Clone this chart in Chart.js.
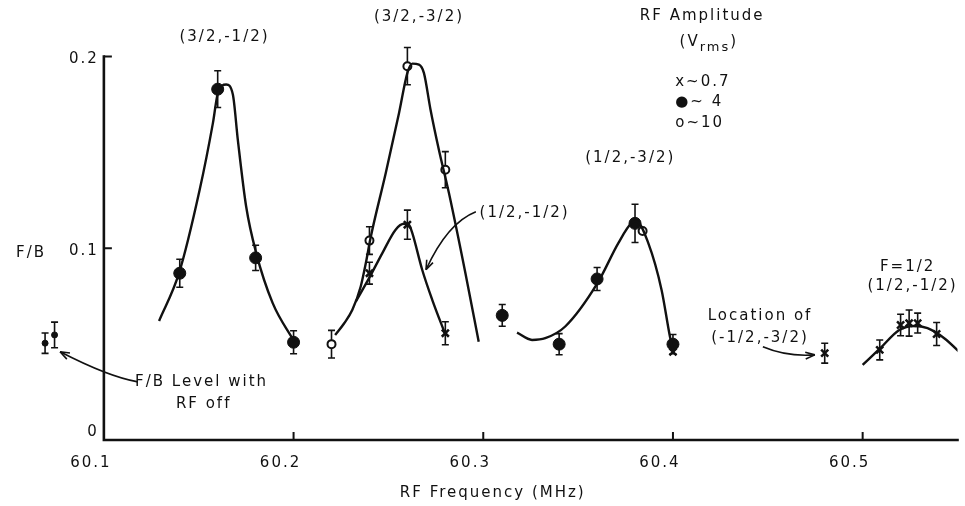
<!DOCTYPE html>
<html>
<head>
<meta charset="utf-8">
<script src="https://cdn.jsdelivr.net/npm/chart.js@4.4.1/dist/chart.umd.min.js"></script>
<style>
  html, body { margin: 0; padding: 0; background: #fff; }
</style>
</head>
<body>
<canvas id="rfChart" width="965" height="506"></canvas>
<script>
// measured points (x in MHz, y = F/B, err = half height of the error bar)
const rfOffX = [60.069, 60.074];
const rfOffY = [0.0505, 0.0548];
const rfOffErr = [0.0053, 0.0067];

// ~4 Vrms (filled circles)
const filledX = [60.14, 60.16, 60.18, 60.20, 60.31, 60.34, 60.36, 60.38, 60.40];
const filledY = [0.087, 0.183, 0.095, 0.051, 0.065, 0.050, 0.084, 0.113, 0.050];
const filledErr = [0.0073, 0.0096, 0.0066, 0.006, 0.0057, 0.0055, 0.006, 0.010, 0.005];

// ~10 Vrms (open circles)
const openX = [60.22, 60.24, 60.26, 60.28, 60.384];
const openY = [0.050, 0.104, 0.195, 0.141, 0.109];
const openErr = [0.0072, 0.0072, 0.0097, 0.0094, 0];

// ~0.7 Vrms (crosses)
const crossX = [60.24, 60.26, 60.28, 60.40, 60.48, 60.509, 60.52, 60.5245, 60.529, 60.539];
const crossY = [0.087, 0.1123, 0.0557, 0.046, 0.0453, 0.047, 0.060, 0.061, 0.061, 0.0553];
const crossErr = [0.0057, 0.0076, 0.006, 0, 0.0052, 0.0052, 0.0056, 0.0068, 0.0052, 0.006];

// hand drawn resonance curves
const curve3212X = [60.1291, 60.1396, 60.1505, 60.1575, 60.1601, 60.1645, 60.1680, 60.1706, 60.1750, 60.1803, 60.1890, 60.2004];
const curve3212Y = [0.0621, 0.0870, 0.1305, 0.1654, 0.1810, 0.1854, 0.1802, 0.1567, 0.1218, 0.0975, 0.0714, 0.0513];

const curve3232X = [60.2219, 60.2267, 60.2310, 60.2354, 60.2381, 60.2405, 60.2486, 60.2556, 60.2600, 60.2626, 60.2661, 60.2687, 60.2722, 60.2766, 60.2819, 60.2906, 60.2976];
const curve3232Y = [0.0548, 0.0609, 0.0679, 0.0801, 0.0923, 0.1050, 0.1393, 0.1706, 0.1915, 0.1963, 0.1958, 0.1915, 0.1723, 0.1514, 0.1288, 0.0870, 0.0513];

const curve1212X = [60.2328, 60.2398, 60.2468, 60.2538, 60.2582, 60.2608, 60.2626, 60.2678, 60.2731, 60.2801];
const curve1212Y = [0.0722, 0.0844, 0.0975, 0.1097, 0.1128, 0.1123, 0.1079, 0.0888, 0.0731, 0.0548];

const curve1232X = [60.3178, 60.3257, 60.3327, 60.3432, 60.3602, 60.3712, 60.3782, 60.3808, 60.3870, 60.3940, 60.3984, 60.4005];
const curve1232Y = [0.056, 0.0522, 0.0531, 0.0592, 0.0818, 0.1027, 0.1132, 0.1140, 0.1027, 0.0783, 0.054, 0.045];

const curveF12X = [60.50, 60.5093, 60.5193, 60.5272, 60.5342, 60.5430, 60.5526];
const curveF12Y = [0.0392, 0.0479, 0.0574, 0.0595, 0.0583, 0.0531, 0.0444];

const xTicks = [60.1, 60.2, 60.3, 60.4, 60.5];
const yTicks = [0, 0.1, 0.2];
const yTickLabels = ["0", "0.1", "0.2"];

// text labels placed in data units
const notes = [
  { text: "(3/2,-1/2)", x: 60.1636, y: 0.2104 },
  { text: "(3/2,-3/2)", x: 60.2661, y: 0.2204 },
  { text: "(1/2,-3/2)", x: 60.3775, y: 0.1473 },
  { text: "(1/2,-1/2)", x: 60.3218, y: 0.1185 },
  { text: "Location of", x: 60.4459, y: 0.0648 },
  { text: "(-1/2,-3/2)", x: 60.4459, y: 0.0533 },
  { text: "F=1/2", x: 60.5237, y: 0.0903 },
  { text: "(1/2,-1/2)", x: 60.5263, y: 0.0804 },
  { text: "F/B Level with", x: 60.1515, y: 0.0303 },
  { text: "RF off", x: 60.1526, y: 0.0188 },
  { text: "F/B", x: 60.0616, y: 0.0977 },
  { text: "RF Amplitude", x: 60.4154, y: 0.2209 },
  { text: "x~0.7", x: 60.4012, y: 0.1869, align: "left" },
  { text: "\u25CF~ 4", x: 60.4012, y: 0.1765, align: "left" },
  { text: "o~10", x: 60.4012, y: 0.1655, align: "left" }
];

// arrows: start, bend, head
const arrows = [
  [[60.1179, 0.0303], [60.1026, 0.0329], [60.0769, 0.0460]],
  [[60.2961, 0.1191], [60.2810, 0.1132], [60.2698, 0.0888]],
  [[60.4474, 0.0486], [60.4600, 0.0433], [60.4748, 0.0444]]
];

const ink = "#111";
const FONT = "DejaVu Sans";
const SPACING = "2px";

const pts = (xs, ys) => xs.map((v, i) => ({ x: v, y: ys[i] }));

function curve(xs, ys) {
  return {
    data: pts(xs, ys),
    showLine: true,
    borderColor: ink,
    borderWidth: 2.4,
    pointRadius: 0,
    cubicInterpolationMode: "monotone",
    fill: false
  };
}

const extras = {
  id: "extras",
  beforeUpdate(chart) { chart.ctx.letterSpacing = SPACING; },
  beforeDraw(chart) { chart.ctx.letterSpacing = SPACING; },
  beforeDatasetsDraw(chart) {
    const { ctx, scales: { x, y } } = chart;
    ctx.save();
    ctx.strokeStyle = ink;
    ctx.lineWidth = 1.6;
    chart.data.datasets.forEach((ds) => {
      if (!ds.errorBars) return;
      ds.data.forEach((p, j) => {
        const e = ds.errorBars[j];
        if (!e) return;
        const px = x.getPixelForValue(p.x);
        const top = y.getPixelForValue(p.y + e);
        const bot = y.getPixelForValue(p.y - e);
        ctx.beginPath();
        ctx.moveTo(px, top); ctx.lineTo(px, bot);
        ctx.moveTo(px - 3.5, top); ctx.lineTo(px + 3.5, top);
        ctx.moveTo(px - 3.5, bot); ctx.lineTo(px + 3.5, bot);
        ctx.stroke();
      });
    });
    ctx.restore();
  },
  afterDraw(chart) {
    const { ctx, chartArea, scales: { x, y } } = chart;
    const x0 = x.getPixelForValue(xTicks[0]);
    const y0 = y.getPixelForValue(yTicks[0]);
    const yTop = y.getPixelForValue(yTicks[yTicks.length - 1]);
    ctx.save();
    ctx.strokeStyle = ink;
    ctx.lineWidth = 2.6;
    ctx.lineCap = "square";
    ctx.beginPath();
    ctx.moveTo(x0, yTop);
    ctx.lineTo(x0, y0);
    ctx.lineTo(chartArea.right, y0);
    ctx.stroke();
    ctx.lineWidth = 2;
    ctx.lineCap = "butt";
    ctx.beginPath();
    yTicks.slice(1).forEach((v) => {
      const py = y.getPixelForValue(v);
      ctx.moveTo(x0, py); ctx.lineTo(x0 + 8, py);
    });
    xTicks.slice(1).forEach((v) => {
      const px = x.getPixelForValue(v);
      ctx.moveTo(px, y0); ctx.lineTo(px, y0 - 8);
    });
    ctx.stroke();

    // arrows
    ctx.lineWidth = 1.6;
    arrows.forEach(([a, b, c]) => {
      const p0 = [x.getPixelForValue(a[0]), y.getPixelForValue(a[1])];
      const p1 = [x.getPixelForValue(b[0]), y.getPixelForValue(b[1])];
      const p2 = [x.getPixelForValue(c[0]), y.getPixelForValue(c[1])];
      ctx.beginPath();
      ctx.moveTo(p0[0], p0[1]);
      ctx.quadraticCurveTo(p1[0], p1[1], p2[0], p2[1]);
      ctx.stroke();
      const ang = Math.atan2(p2[1] - p1[1], p2[0] - p1[0]);
      ctx.beginPath();
      ctx.moveTo(p2[0], p2[1]);
      ctx.lineTo(p2[0] - 10 * Math.cos(ang - 0.35), p2[1] - 10 * Math.sin(ang - 0.35));
      ctx.moveTo(p2[0], p2[1]);
      ctx.lineTo(p2[0] - 10 * Math.cos(ang + 0.35), p2[1] - 10 * Math.sin(ang + 0.35));
      ctx.stroke();
    });

    // text
    ctx.fillStyle = ink;
    ctx.letterSpacing = SPACING;
    ctx.font = "15px '" + FONT + "'";
    ctx.textBaseline = "middle";

    // y tick labels
    ctx.textAlign = "right";
    yTicks.forEach((v, i) => {
      const py = y.getPixelForValue(v);
      ctx.fillText(yTickLabels[i], x0 - 5, v === 0 ? py - 8 : py + 3);
    });

    notes.forEach((n) => {
      ctx.textAlign = n.align || "center";
      ctx.fillText(n.text, x.getPixelForValue(n.x), y.getPixelForValue(n.y));
    });

    // (Vrms) with subscript
    const vx = x.getPixelForValue(60.4035);
    const vy = y.getPixelForValue(0.2073);
    ctx.textAlign = "left";
    ctx.fillText("(V", vx, vy);
    let w = ctx.measureText("(V").width;
    ctx.font = "13px '" + FONT + "'";
    ctx.fillText("rms", vx + w, vy + 5);
    w += ctx.measureText("rms").width;
    ctx.font = "15px '" + FONT + "'";
    ctx.fillText(")", vx + w, vy);
    ctx.restore();
  }
};

Chart.defaults.font.family = FONT;
Chart.defaults.color = ink;

new Chart(document.getElementById("rfChart"), {
  type: "line",
  data: {
    datasets: [
      curve(curve3212X, curve3212Y),
      curve(curve3232X, curve3232Y),
      curve(curve1212X, curve1212Y),
      curve(curve1232X, curve1232Y),
      curve(curveF12X, curveF12Y),
      {
        label: "RF off",
        data: pts(rfOffX, rfOffY),
        errorBars: rfOffErr,
        showLine: false,
        pointStyle: "circle",
        pointRadius: 3,
        pointBackgroundColor: ink,
        pointBorderColor: ink,
        clip: false
      },
      {
        label: "~10",
        data: pts(openX, openY),
        errorBars: openErr,
        showLine: false,
        pointStyle: "circle",
        pointRadius: 4,
        pointBorderWidth: 2,
        pointBackgroundColor: "#fff",
        pointBorderColor: ink
      },
      {
        label: "~0.7",
        data: pts(crossX, crossY),
        errorBars: crossErr,
        showLine: false,
        pointStyle: "crossRot",
        pointRadius: 5,
        pointBorderWidth: 2.5,
        pointBorderColor: ink
      },
      {
        label: "~4",
        data: pts(filledX, filledY),
        errorBars: filledErr,
        showLine: false,
        pointStyle: "circle",
        pointRadius: 6,
        pointBackgroundColor: ink,
        pointBorderColor: ink
      }
    ]
  },
  options: {
    responsive: false,
    animation: false,
    events: [],
    layout: { padding: { left: 28, right: 5, top: 0, bottom: 0 } },
    plugins: { legend: { display: false }, tooltip: { enabled: false } },
    scales: {
      x: {
        type: "linear",
        min: 60.06,
        max: 60.55,
        grid: { display: false, drawTicks: false },
        border: { display: false },
        afterBuildTicks: (s) => { s.ticks = xTicks.map((v) => ({ value: v })); },
        afterFit: (s) => { s.height = 66; },
        ticks: {
          padding: 14,
          labelOffset: -13,
          maxRotation: 0,
          minRotation: 0,
          font: { size: 15 },
          color: ink,
          callback: (v) => Number(v).toFixed(1)
        },
        title: {
          display: true,
          text: "RF Frequency (MHz)",
          font: { size: 15 },
          color: ink,
          padding: { top: 10, bottom: 4 }
        }
      },
      y: {
        type: "linear",
        display: false,
        min: 0,
        max: 0.2256
      }
    }
  },
  plugins: [extras]
});
</script>
</body>
</html>
